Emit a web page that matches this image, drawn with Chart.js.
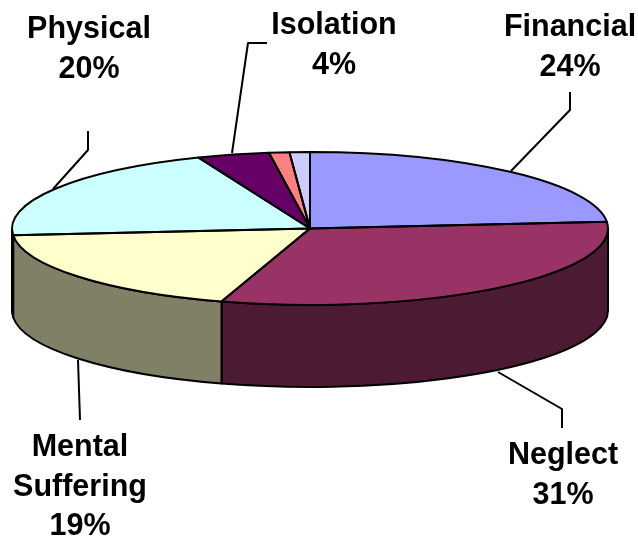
<!DOCTYPE html>
<html>
<head>
<meta charset="utf-8">
<title>Pie</title>
<script src="https://cdn.jsdelivr.net/npm/chart.js@4/dist/chart.umd.min.js"></script>
<style>
  html, body { margin: 0; padding: 0; background: #fff; }
  canvas { display: block; }
</style>
</head>
<body>
<canvas id="myChart" width="638" height="540"></canvas>
<script>
const categories = ['Financial', 'Neglect', 'Mental Suffering', 'Physical', 'Isolation', 'Other A', 'Other B'];
const values = [23.6, 31.2, 18.8, 20.3, 3.9, 1.1, 1.1];
const topColors = ['#9999ff', '#993366', '#ffffcc', '#ccffff', '#660066', '#ff8080', '#ccccff'];
const wallColors = ['#4d4d80', '#4d1a33', '#808066', '#668080', '#330033', '#804040', '#666680'];

// text blocks and leader lines, one per labelled slice
const labelLines = [
  ['Financial', '24%'],
  ['Neglect', '31%'],
  ['Mental', 'Suffering', '19%'],
  ['Physical', '20%'],
  ['Isolation', '4%']
];
const labelAnchors = [[570, 36], [563, 464], [80, 456], [89, 38], [334, 34]];
const leaders = [
  [[570, 92], [570, 110], [511, 171]],
  [[498, 372], [562, 409], [562, 428]],
  [[78, 360], [80, 420]],
  [[88, 131], [88, 150], [53, 189]],
  [[267, 43], [248, 43], [232, 153]]
];

// tilted disc geometry
const disc = { x: 310, y: 228.5, rx: 298, ry: 76.5, depth: 82 };
const lineHeight = 39.5;

const tiltedPie = {
  id: 'tiltedPie',
  beforeDatasetsDraw(chart) {
    const ctx = chart.ctx;
    const arcs = chart.getDatasetMeta(0).data;

    // side wall, only the front half of the disc shows it
    ctx.save();
    ctx.lineWidth = 2;
    ctx.strokeStyle = '#000';
    ctx.lineJoin = 'round';
    arcs.forEach((arc, i) => {
      const a0 = Math.max(arc.startAngle, 0);
      const a1 = Math.min(arc.endAngle, Math.PI);
      if (a1 <= a0) return;
      ctx.beginPath();
      ctx.ellipse(disc.x, disc.y, disc.rx, disc.ry, 0, a0, a1);
      ctx.ellipse(disc.x, disc.y + disc.depth, disc.rx, disc.ry, 0, a1, a0, true);
      ctx.closePath();
      ctx.fillStyle = wallColors[i];
      ctx.fill();
      ctx.stroke();
    });
    ctx.restore();

    // squash the library's own arcs into the disc
    const c = arcs[0];
    const k = c.outerRadius;
    ctx.save();
    ctx.translate(disc.x, disc.y);
    ctx.scale(disc.rx / k, disc.ry / k);
    ctx.translate(-c.x, -c.y);
  },
  afterDatasetsDraw(chart) {
    const ctx = chart.ctx;
    ctx.restore();

    // outlines are stroked untransformed so they stay even
    ctx.save();
    ctx.lineWidth = 2;
    ctx.strokeStyle = '#000';
    ctx.lineJoin = 'round';
    chart.getDatasetMeta(0).data.forEach(arc => {
      ctx.beginPath();
      ctx.moveTo(disc.x, disc.y);
      ctx.ellipse(disc.x, disc.y, disc.rx, disc.ry, 0, arc.startAngle, arc.endAngle);
      ctx.closePath();
      ctx.stroke();
    });

    leaders.forEach(pts => {
      ctx.beginPath();
      pts.forEach((p, i) => (i ? ctx.lineTo(p[0], p[1]) : ctx.moveTo(p[0], p[1])));
      ctx.stroke();
    });

    ctx.fillStyle = '#000';
    ctx.font = 'bold 30.5px "Liberation Sans", Arial, sans-serif';
    ctx.textAlign = 'center';
    ctx.textBaseline = 'alphabetic';
    labelLines.forEach((lines, i) => {
      lines.forEach((txt, j) => {
        ctx.fillText(txt, labelAnchors[i][0], labelAnchors[i][1] + j * lineHeight);
      });
    });
    ctx.restore();
  }
};

new Chart(document.getElementById('myChart').getContext('2d'), {
  type: 'pie',
  data: {
    labels: categories,
    datasets: [{ data: values, backgroundColor: topColors, borderWidth: 0 }]
  },
  options: {
    responsive: false,
    animation: false,
    plugins: { legend: { display: false }, tooltip: { enabled: false } }
  },
  plugins: [tiltedPie]
});
</script>
</body>
</html>
